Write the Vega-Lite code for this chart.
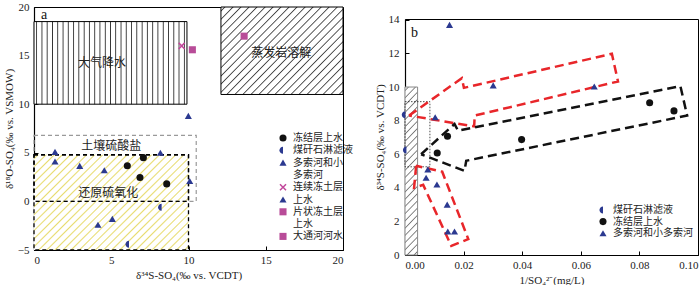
{
"$schema": "https://vega.github.io/schema/vega-lite/v6.json",
"padding": {"left": 2, "right": 2, "top": 0, "bottom": 0},
"background": "white",
"spacing": 19,
"config": {
  "view": {"stroke": "black", "strokeWidth": 1},
  "axis": {"grid": false, "domainColor": "black", "domainWidth": 1.2, "tickColor": "black", "tickSize": -4, "labelFont": "Liberation Serif", "titleFont": "Liberation Serif", "labelFontSize": 11, "titleFontSize": 11, "titleFontWeight": "normal", "labelColor": "#222", "titleColor": "#222", "zindex": 1},
  "legend": {"labelFont": "Noto Sans CJK SC", "labelFontSize": 10, "labelColor": "#222", "symbolSize": 50, "labelOffset": 5, "padding": 0, "symbolStrokeWidth": 0}
},
"resolve": {"scale": {"color": "independent", "shape": "independent"}, "legend": {"color": "independent", "shape": "independent"}},
"hconcat": [
{
  "width": 309, "height": 243,
  "encoding": {
    "x": {"field": "x", "type": "quantitative", "scale": {"domain": [0, 20], "nice": false, "zero": false}, "axis": {"title": "δ³⁴S-SO₄(‰ vs. VCDT)", "values": [0, 5, 10, 15, 20], "labelPadding": 8, "titlePadding": 4}},
    "y": {"field": "y", "type": "quantitative", "scale": {"domain": [-5, 20], "nice": false, "zero": false}, "axis": {"title": "δ¹⁸O-SO₄(‰ vs. VSMOW)", "values": [-5, 0, 5, 10, 15, 20], "labelPadding": 9, "titlePadding": 3}}
  },
  "layer": [
    {"data": {"values": [{"x": 0, "x2": 9.9, "y": 10, "y2": 18.5}]},
     "mark": {"type": "rect", "stroke": "black", "strokeWidth": 1, "fill": {"gradient": "linear", "x1": 0, "y1": 0, "x2": 1, "y2": 0, "stops": [
{"offset":0.011,"color":"#ffffff"},{"offset":0.017,"color":"#333333"},{"offset":0.023,"color":"#ffffff"},
{"offset":0.046,"color":"#ffffff"},{"offset":0.052,"color":"#333333"},{"offset":0.058,"color":"#ffffff"},
{"offset":0.080,"color":"#ffffff"},{"offset":0.086,"color":"#333333"},{"offset":0.092,"color":"#ffffff"},
{"offset":0.115,"color":"#ffffff"},{"offset":0.121,"color":"#333333"},{"offset":0.127,"color":"#ffffff"},
{"offset":0.149,"color":"#ffffff"},{"offset":0.155,"color":"#333333"},{"offset":0.161,"color":"#ffffff"},
{"offset":0.184,"color":"#ffffff"},{"offset":0.190,"color":"#333333"},{"offset":0.196,"color":"#ffffff"},
{"offset":0.218,"color":"#ffffff"},{"offset":0.224,"color":"#333333"},{"offset":0.230,"color":"#ffffff"},
{"offset":0.253,"color":"#ffffff"},{"offset":0.259,"color":"#333333"},{"offset":0.265,"color":"#ffffff"},
{"offset":0.287,"color":"#ffffff"},{"offset":0.293,"color":"#333333"},{"offset":0.299,"color":"#ffffff"},
{"offset":0.322,"color":"#ffffff"},{"offset":0.328,"color":"#333333"},{"offset":0.334,"color":"#ffffff"},
{"offset":0.356,"color":"#ffffff"},{"offset":0.362,"color":"#333333"},{"offset":0.368,"color":"#ffffff"},
{"offset":0.391,"color":"#ffffff"},{"offset":0.397,"color":"#333333"},{"offset":0.403,"color":"#ffffff"},
{"offset":0.425,"color":"#ffffff"},{"offset":0.431,"color":"#333333"},{"offset":0.437,"color":"#ffffff"},
{"offset":0.460,"color":"#ffffff"},{"offset":0.466,"color":"#333333"},{"offset":0.472,"color":"#ffffff"},
{"offset":0.494,"color":"#ffffff"},{"offset":0.500,"color":"#333333"},{"offset":0.506,"color":"#ffffff"},
{"offset":0.528,"color":"#ffffff"},{"offset":0.534,"color":"#333333"},{"offset":0.540,"color":"#ffffff"},
{"offset":0.563,"color":"#ffffff"},{"offset":0.569,"color":"#333333"},{"offset":0.575,"color":"#ffffff"},
{"offset":0.597,"color":"#ffffff"},{"offset":0.603,"color":"#333333"},{"offset":0.609,"color":"#ffffff"},
{"offset":0.632,"color":"#ffffff"},{"offset":0.638,"color":"#333333"},{"offset":0.644,"color":"#ffffff"},
{"offset":0.666,"color":"#ffffff"},{"offset":0.672,"color":"#333333"},{"offset":0.678,"color":"#ffffff"},
{"offset":0.701,"color":"#ffffff"},{"offset":0.707,"color":"#333333"},{"offset":0.713,"color":"#ffffff"},
{"offset":0.735,"color":"#ffffff"},{"offset":0.741,"color":"#333333"},{"offset":0.747,"color":"#ffffff"},
{"offset":0.770,"color":"#ffffff"},{"offset":0.776,"color":"#333333"},{"offset":0.782,"color":"#ffffff"},
{"offset":0.804,"color":"#ffffff"},{"offset":0.810,"color":"#333333"},{"offset":0.816,"color":"#ffffff"},
{"offset":0.839,"color":"#ffffff"},{"offset":0.845,"color":"#333333"},{"offset":0.851,"color":"#ffffff"},
{"offset":0.873,"color":"#ffffff"},{"offset":0.879,"color":"#333333"},{"offset":0.885,"color":"#ffffff"},
{"offset":0.908,"color":"#ffffff"},{"offset":0.914,"color":"#333333"},{"offset":0.920,"color":"#ffffff"},
{"offset":0.942,"color":"#ffffff"},{"offset":0.948,"color":"#333333"},{"offset":0.954,"color":"#ffffff"},
{"offset":0.977,"color":"#ffffff"},{"offset":0.983,"color":"#333333"},{"offset":0.989,"color":"#ffffff"}]}},
     "encoding": {"x2": {"field": "x2"}, "y2": {"field": "y2"}}},
    {"data": {"values": [{"x": 12.1, "x2": 20, "y": 11, "y2": 20}]},
     "mark": {"type": "rect", "stroke": "black", "strokeWidth": 1, "fill": {"gradient": "linear", "x1": 0, "y1": 0, "x2": 1.138, "y2": 0.805, "stops": [
{"offset":0.013,"color":"#ffffff"},{"offset":0.019,"color":"#444444"},{"offset":0.025,"color":"#ffffff"},
{"offset":0.052,"color":"#ffffff"},{"offset":0.058,"color":"#444444"},{"offset":0.064,"color":"#ffffff"},
{"offset":0.090,"color":"#ffffff"},{"offset":0.096,"color":"#444444"},{"offset":0.102,"color":"#ffffff"},
{"offset":0.129,"color":"#ffffff"},{"offset":0.135,"color":"#444444"},{"offset":0.141,"color":"#ffffff"},
{"offset":0.167,"color":"#ffffff"},{"offset":0.173,"color":"#444444"},{"offset":0.179,"color":"#ffffff"},
{"offset":0.206,"color":"#ffffff"},{"offset":0.212,"color":"#444444"},{"offset":0.218,"color":"#ffffff"},
{"offset":0.244,"color":"#ffffff"},{"offset":0.250,"color":"#444444"},{"offset":0.256,"color":"#ffffff"},
{"offset":0.282,"color":"#ffffff"},{"offset":0.288,"color":"#444444"},{"offset":0.294,"color":"#ffffff"},
{"offset":0.321,"color":"#ffffff"},{"offset":0.327,"color":"#444444"},{"offset":0.333,"color":"#ffffff"},
{"offset":0.359,"color":"#ffffff"},{"offset":0.365,"color":"#444444"},{"offset":0.371,"color":"#ffffff"},
{"offset":0.398,"color":"#ffffff"},{"offset":0.404,"color":"#444444"},{"offset":0.410,"color":"#ffffff"},
{"offset":0.436,"color":"#ffffff"},{"offset":0.442,"color":"#444444"},{"offset":0.448,"color":"#ffffff"},
{"offset":0.475,"color":"#ffffff"},{"offset":0.481,"color":"#444444"},{"offset":0.487,"color":"#ffffff"},
{"offset":0.513,"color":"#ffffff"},{"offset":0.519,"color":"#444444"},{"offset":0.525,"color":"#ffffff"},
{"offset":0.552,"color":"#ffffff"},{"offset":0.558,"color":"#444444"},{"offset":0.564,"color":"#ffffff"},
{"offset":0.590,"color":"#ffffff"},{"offset":0.596,"color":"#444444"},{"offset":0.602,"color":"#ffffff"},
{"offset":0.629,"color":"#ffffff"},{"offset":0.635,"color":"#444444"},{"offset":0.641,"color":"#ffffff"},
{"offset":0.667,"color":"#ffffff"},{"offset":0.673,"color":"#444444"},{"offset":0.679,"color":"#ffffff"},
{"offset":0.706,"color":"#ffffff"},{"offset":0.712,"color":"#444444"},{"offset":0.718,"color":"#ffffff"},
{"offset":0.744,"color":"#ffffff"},{"offset":0.750,"color":"#444444"},{"offset":0.756,"color":"#ffffff"},
{"offset":0.782,"color":"#ffffff"},{"offset":0.788,"color":"#444444"},{"offset":0.794,"color":"#ffffff"},
{"offset":0.821,"color":"#ffffff"},{"offset":0.827,"color":"#444444"},{"offset":0.833,"color":"#ffffff"},
{"offset":0.859,"color":"#ffffff"},{"offset":0.865,"color":"#444444"},{"offset":0.871,"color":"#ffffff"},
{"offset":0.898,"color":"#ffffff"},{"offset":0.904,"color":"#444444"},{"offset":0.910,"color":"#ffffff"},
{"offset":0.936,"color":"#ffffff"},{"offset":0.942,"color":"#444444"},{"offset":0.948,"color":"#ffffff"},
{"offset":0.975,"color":"#ffffff"},{"offset":0.981,"color":"#444444"},{"offset":0.987,"color":"#ffffff"}]}},
     "encoding": {"x2": {"field": "x2"}, "y2": {"field": "y2"}}},
    {"data": {"values": [{"x": 0, "x2": 10, "y": -5, "y2": 4.8}]},
     "mark": {"type": "rect", "strokeWidth": 0, "fill": {"gradient": "linear", "x1": 0, "y1": 0, "x2": 1.169, "y2": 0.730, "stops": [
{"offset":0.010,"color":"#ffffff"},{"offset":0.016,"color":"#e8dc70"},{"offset":0.022,"color":"#ffffff"},
{"offset":0.042,"color":"#ffffff"},{"offset":0.048,"color":"#e8dc70"},{"offset":0.054,"color":"#ffffff"},
{"offset":0.075,"color":"#ffffff"},{"offset":0.081,"color":"#e8dc70"},{"offset":0.087,"color":"#ffffff"},
{"offset":0.107,"color":"#ffffff"},{"offset":0.113,"color":"#e8dc70"},{"offset":0.119,"color":"#ffffff"},
{"offset":0.139,"color":"#ffffff"},{"offset":0.145,"color":"#e8dc70"},{"offset":0.151,"color":"#ffffff"},
{"offset":0.171,"color":"#ffffff"},{"offset":0.177,"color":"#e8dc70"},{"offset":0.183,"color":"#ffffff"},
{"offset":0.204,"color":"#ffffff"},{"offset":0.210,"color":"#e8dc70"},{"offset":0.216,"color":"#ffffff"},
{"offset":0.236,"color":"#ffffff"},{"offset":0.242,"color":"#e8dc70"},{"offset":0.248,"color":"#ffffff"},
{"offset":0.268,"color":"#ffffff"},{"offset":0.274,"color":"#e8dc70"},{"offset":0.280,"color":"#ffffff"},
{"offset":0.300,"color":"#ffffff"},{"offset":0.306,"color":"#e8dc70"},{"offset":0.312,"color":"#ffffff"},
{"offset":0.333,"color":"#ffffff"},{"offset":0.339,"color":"#e8dc70"},{"offset":0.345,"color":"#ffffff"},
{"offset":0.365,"color":"#ffffff"},{"offset":0.371,"color":"#e8dc70"},{"offset":0.377,"color":"#ffffff"},
{"offset":0.397,"color":"#ffffff"},{"offset":0.403,"color":"#e8dc70"},{"offset":0.409,"color":"#ffffff"},
{"offset":0.429,"color":"#ffffff"},{"offset":0.435,"color":"#e8dc70"},{"offset":0.441,"color":"#ffffff"},
{"offset":0.462,"color":"#ffffff"},{"offset":0.468,"color":"#e8dc70"},{"offset":0.474,"color":"#ffffff"},
{"offset":0.494,"color":"#ffffff"},{"offset":0.500,"color":"#e8dc70"},{"offset":0.506,"color":"#ffffff"},
{"offset":0.526,"color":"#ffffff"},{"offset":0.532,"color":"#e8dc70"},{"offset":0.538,"color":"#ffffff"},
{"offset":0.559,"color":"#ffffff"},{"offset":0.565,"color":"#e8dc70"},{"offset":0.571,"color":"#ffffff"},
{"offset":0.591,"color":"#ffffff"},{"offset":0.597,"color":"#e8dc70"},{"offset":0.603,"color":"#ffffff"},
{"offset":0.623,"color":"#ffffff"},{"offset":0.629,"color":"#e8dc70"},{"offset":0.635,"color":"#ffffff"},
{"offset":0.655,"color":"#ffffff"},{"offset":0.661,"color":"#e8dc70"},{"offset":0.667,"color":"#ffffff"},
{"offset":0.688,"color":"#ffffff"},{"offset":0.694,"color":"#e8dc70"},{"offset":0.700,"color":"#ffffff"},
{"offset":0.720,"color":"#ffffff"},{"offset":0.726,"color":"#e8dc70"},{"offset":0.732,"color":"#ffffff"},
{"offset":0.752,"color":"#ffffff"},{"offset":0.758,"color":"#e8dc70"},{"offset":0.764,"color":"#ffffff"},
{"offset":0.784,"color":"#ffffff"},{"offset":0.790,"color":"#e8dc70"},{"offset":0.796,"color":"#ffffff"},
{"offset":0.817,"color":"#ffffff"},{"offset":0.823,"color":"#e8dc70"},{"offset":0.829,"color":"#ffffff"},
{"offset":0.849,"color":"#ffffff"},{"offset":0.855,"color":"#e8dc70"},{"offset":0.861,"color":"#ffffff"},
{"offset":0.881,"color":"#ffffff"},{"offset":0.887,"color":"#e8dc70"},{"offset":0.893,"color":"#ffffff"},
{"offset":0.913,"color":"#ffffff"},{"offset":0.919,"color":"#e8dc70"},{"offset":0.925,"color":"#ffffff"},
{"offset":0.946,"color":"#ffffff"},{"offset":0.952,"color":"#e8dc70"},{"offset":0.958,"color":"#ffffff"},
{"offset":0.978,"color":"#ffffff"},{"offset":0.984,"color":"#e8dc70"},{"offset":0.990,"color":"#ffffff"}]}},
     "encoding": {"x2": {"field": "x2"}, "y2": {"field": "y2"}}},
    {"data": {"values": [{"x": 0, "x2": 10.5, "y": 0, "y2": 6.8}]},
     "mark": {"type": "rect", "fill": "transparent", "stroke": "#9a9a9a", "strokeWidth": 1.2, "strokeDash": [4, 3]},
     "encoding": {"x2": {"field": "x2"}, "y2": {"field": "y2"}}},
    {"data": {"values": [{"x": 0, "x2": 10, "y": -5, "y2": 4.8}, {"x": 0, "x2": 10, "y": 0, "y2": 4.8}]},
     "mark": {"type": "rect", "fill": "transparent", "stroke": "black", "strokeWidth": 1.3, "strokeDash": [4, 3]},
     "encoding": {"x2": {"field": "x2"}, "y2": {"field": "y2"}}},
    {"data": {"values": [{"x": 4.4, "y": 14.2, "t": "大气降水"}, {"x": 16, "y": 15.3, "t": "蒸发岩溶解"}, {"x": 5, "y": 5.75, "t": "土壤硫酸盐"}, {"x": 4.8, "y": 0.9, "t": "还原硫氧化"}]},
     "mark": {"type": "text", "font": "Noto Sans CJK SC", "fontSize": 12, "color": "#222"},
     "encoding": {"text": {"field": "t"}}},
    {"data": {"values": [{"x": 0.65, "y": 19.2, "t": "a"}]},
     "mark": {"type": "text", "font": "Liberation Serif", "fontSize": 14, "color": "#111"},
     "encoding": {"text": {"field": "t"}}},
    {"data": {"values": [
      {"x": 6.04, "y": 3.67, "type": "冻结层上水"}, {"x": 7.08, "y": 4.5, "type": "冻结层上水"}, {"x": 6.86, "y": 2.45, "type": "冻结层上水"}, {"x": 8.59, "y": 1.8, "type": "冻结层上水"},
      {"x": 1.36, "y": 5.1, "type": "多索河和小多索河"}, {"x": 1.36, "y": 4.1, "type": "多索河和小多索河"}, {"x": 2.96, "y": 3.65, "type": "多索河和小多索河"}, {"x": 4.55, "y": 3.2, "type": "多索河和小多索河"},
      {"x": 8.18, "y": 5.0, "type": "多索河和小多索河"}, {"x": 10.08, "y": 2.1, "type": "多索河和小多索河"}, {"x": 4.14, "y": -2.4, "type": "多索河和小多索河"}, {"x": 5.07, "y": -1.8, "type": "多索河和小多索河"},
      {"x": 9.99, "y": 8.8, "type": "上水"},
      {"x": 8.26, "y": -0.6, "type": "煤矸石淋滤液"}, {"x": 6.15, "y": -4.4, "type": "煤矸石淋滤液"},
      {"x": 9.56, "y": 16.0, "type": "连续冻土层"},
      {"x": 10.25, "y": 15.6, "type": "片状冻土层上水"},
      {"x": 13.6, "y": 17.0, "type": "大通河河水"}]},
     "mark": {"type": "point", "filled": true, "opacity": 1, "size": 50},
     "encoding": {
       "color": {"field": "type", "type": "nominal",
         "scale": {"domain": ["冻结层上水", "煤矸石淋滤液", "多索河和小多索河", "L2a", "连续冻土层", "上水", "片状冻土层上水", "L2b", "大通河河水"],
                   "range": ["#111111", "#2b3990", "#2b3990", "rgba(0,0,0,0)", "#c2479b", "#2b3990", "#b84c98", "rgba(0,0,0,0)", "#b84c98"]},
         "legend": {"title": null, "orient": "none", "legendX": 244, "legendY": 126, "rowPadding": 2.3,
           "labelExpr": "datum.label == '多索河和小多索河' ? '多索河和小' : datum.label == 'L2a' ? '多索河' : datum.label == '片状冻土层上水' ? '片状冻土层' : datum.label == 'L2b' ? '上水' : datum.label"}},
       "shape": {"field": "type", "type": "nominal",
         "scale": {"domain": ["冻结层上水", "煤矸石淋滤液", "多索河和小多索河", "L2a", "连续冻土层", "上水", "片状冻土层上水", "L2b", "大通河河水"],
                   "range": ["circle", "M0,-1A1,1,0,0,0,0,1Z", "triangle-up", "circle", "M-1,-0.7L-0.7,-1L0,-0.3L0.7,-1L1,-0.7L0.3,0L1,0.7L0.7,1L0,0.3L-0.7,1L-1,0.7L-0.3,0Z", "triangle-up", "square", "circle", "square"]},
         "legend": {"title": null, "orient": "none", "legendX": 244, "legendY": 126, "rowPadding": 2.3,
           "labelExpr": "datum.label == '多索河和小多索河' ? '多索河和小' : datum.label == 'L2a' ? '多索河' : datum.label == '片状冻土层上水' ? '片状冻土层' : datum.label == 'L2b' ? '上水' : datum.label"}}
     }}
  ]
},
{
  "spacing": 0,
  "vconcat": [
  {
    "width": 293, "height": 1,
    "view": {"stroke": null},
    "data": {"values": [{"t": ""}]},
    "mark": {"type": "text"},
    "encoding": {"text": {"field": "t"}}
  },
  {
  "width": 293, "height": 236,
  "encoding": {
    "x": {"field": "x", "type": "quantitative", "scale": {"domain": [0, 0.1], "nice": false, "zero": false}, "axis": {"title": "1/SO₄²⁻(mg/L)", "values": [0, 0.02, 0.04, 0.06, 0.08, 0.1], "format": ".2f", "labelFlush": true, "labelPadding": 8, "titlePadding": 4}},
    "y": {"field": "y", "type": "quantitative", "scale": {"domain": [0, 14.05], "nice": false, "zero": false}, "axis": {"title": "δ³⁴S-SO₄(‰ vs. VCDT)", "values": [0, 2, 4, 6, 8, 10, 12, 14], "labelPadding": 10, "titlePadding": 3}}
  },
  "layer": [
    {"data": {"values": [{"x": 0, "x2": 0.0043, "y": 0, "y2": 10}]},
     "mark": {"type": "rect", "stroke": "#888888", "strokeWidth": 1, "fill": {"gradient": "linear", "x1": 0, "y1": 0, "x2": 0.0831, "y2": 1.071, "stops": [
{"offset":0.013,"color":"#ffffff"},{"offset":0.02,"color":"#777777"},{"offset":0.027,"color":"#ffffff"},
{"offset":0.053,"color":"#ffffff"},{"offset":0.06,"color":"#777777"},{"offset":0.067,"color":"#ffffff"},
{"offset":0.093,"color":"#ffffff"},{"offset":0.10,"color":"#777777"},{"offset":0.107,"color":"#ffffff"},
{"offset":0.133,"color":"#ffffff"},{"offset":0.14,"color":"#777777"},{"offset":0.147,"color":"#ffffff"},
{"offset":0.173,"color":"#ffffff"},{"offset":0.18,"color":"#777777"},{"offset":0.187,"color":"#ffffff"},
{"offset":0.213,"color":"#ffffff"},{"offset":0.22,"color":"#777777"},{"offset":0.227,"color":"#ffffff"},
{"offset":0.253,"color":"#ffffff"},{"offset":0.26,"color":"#777777"},{"offset":0.267,"color":"#ffffff"},
{"offset":0.293,"color":"#ffffff"},{"offset":0.30,"color":"#777777"},{"offset":0.307,"color":"#ffffff"},
{"offset":0.333,"color":"#ffffff"},{"offset":0.34,"color":"#777777"},{"offset":0.347,"color":"#ffffff"},
{"offset":0.373,"color":"#ffffff"},{"offset":0.38,"color":"#777777"},{"offset":0.387,"color":"#ffffff"},
{"offset":0.413,"color":"#ffffff"},{"offset":0.42,"color":"#777777"},{"offset":0.427,"color":"#ffffff"},
{"offset":0.453,"color":"#ffffff"},{"offset":0.46,"color":"#777777"},{"offset":0.467,"color":"#ffffff"},
{"offset":0.493,"color":"#ffffff"},{"offset":0.50,"color":"#777777"},{"offset":0.507,"color":"#ffffff"},
{"offset":0.533,"color":"#ffffff"},{"offset":0.54,"color":"#777777"},{"offset":0.547,"color":"#ffffff"},
{"offset":0.573,"color":"#ffffff"},{"offset":0.58,"color":"#777777"},{"offset":0.587,"color":"#ffffff"},
{"offset":0.613,"color":"#ffffff"},{"offset":0.62,"color":"#777777"},{"offset":0.627,"color":"#ffffff"},
{"offset":0.653,"color":"#ffffff"},{"offset":0.66,"color":"#777777"},{"offset":0.667,"color":"#ffffff"},
{"offset":0.693,"color":"#ffffff"},{"offset":0.70,"color":"#777777"},{"offset":0.707,"color":"#ffffff"},
{"offset":0.733,"color":"#ffffff"},{"offset":0.74,"color":"#777777"},{"offset":0.747,"color":"#ffffff"},
{"offset":0.773,"color":"#ffffff"},{"offset":0.78,"color":"#777777"},{"offset":0.787,"color":"#ffffff"},
{"offset":0.813,"color":"#ffffff"},{"offset":0.82,"color":"#777777"},{"offset":0.827,"color":"#ffffff"},
{"offset":0.853,"color":"#ffffff"},{"offset":0.86,"color":"#777777"},{"offset":0.867,"color":"#ffffff"},
{"offset":0.893,"color":"#ffffff"},{"offset":0.90,"color":"#777777"},{"offset":0.907,"color":"#ffffff"},
{"offset":0.933,"color":"#ffffff"},{"offset":0.94,"color":"#777777"},{"offset":0.947,"color":"#ffffff"},
{"offset":0.973,"color":"#ffffff"},{"offset":0.98,"color":"#777777"},{"offset":0.987,"color":"#ffffff"}]}},
     "encoding": {"x2": {"field": "x2"}, "y2": {"field": "y2"}}},
    {"data": {"values": [{"x": 0, "x2": 0.0085, "y": 5.25, "y2": 9.13}]},
     "mark": {"type": "rect", "fill": "transparent", "stroke": "#222", "strokeWidth": 0.8, "strokeDash": [1.5, 1.5]},
     "encoding": {"x2": {"field": "x2"}, "y2": {"field": "y2"}}},
    {"data": {"values": [
      {"g": "r1", "o": 0, "x": 0.0014, "y": 8.3}, {"g": "r1", "o": 1, "x": 0.0194, "y": 10.53}, {"g": "r1", "o": 2, "x": 0.0201, "y": 9.95}, {"g": "r1", "o": 3, "x": 0.0706, "y": 11.98},
      {"g": "r1", "o": 4, "x": 0.0727, "y": 10.33}, {"g": "r1", "o": 5, "x": 0.0238, "y": 8.3}, {"g": "r1", "o": 6, "x": 0.0236, "y": 7.66}, {"g": "r1", "o": 7, "x": 0.0014, "y": 8.3},
      {"g": "r2", "o": 0, "x": 0.0038, "y": 5.31}, {"g": "r2", "o": 1, "x": 0.0031, "y": 4.0}, {"g": "r2", "o": 2, "x": 0.0062, "y": 4.18}, {"g": "r2", "o": 3, "x": 0.0158, "y": 0.54},
      {"g": "r2", "o": 4, "x": 0.0216, "y": 0.95}, {"g": "r2", "o": 5, "x": 0.0127, "y": 4.96}, {"g": "r2", "o": 6, "x": 0.0038, "y": 5.31}]},
     "mark": {"type": "line", "color": "#e8262a", "strokeWidth": 2.5, "strokeDash": [9, 5]},
     "encoding": {"detail": {"field": "g"}, "order": {"field": "o", "type": "quantitative"}}},
    {"data": {"values": [
      {"g": "k1", "o": 0, "x": 0.0055, "y": 6.0}, {"g": "k1", "o": 1, "x": 0.0169, "y": 7.8}, {"g": "k1", "o": 2, "x": 0.0181, "y": 7.4}, {"g": "k1", "o": 3, "x": 0.094, "y": 10.05},
      {"g": "k1", "o": 4, "x": 0.0963, "y": 8.3}, {"g": "k1", "o": 5, "x": 0.0209, "y": 5.61}, {"g": "k1", "o": 6, "x": 0.0203, "y": 5.01}, {"g": "k1", "o": 7, "x": 0.0055, "y": 6.0}]},
     "mark": {"type": "line", "color": "#111111", "strokeWidth": 2.5, "strokeDash": [9, 5]},
     "encoding": {"detail": {"field": "g"}, "order": {"field": "o", "type": "quantitative"}}},
    {"data": {"values": [{"x": 0.0032, "y": 13.2, "t": "b"}]},
     "mark": {"type": "text", "font": "Liberation Serif", "fontSize": 14, "color": "#111"},
     "encoding": {"text": {"field": "t"}}},
    {"data": {"values": [
      {"x": 0.0001, "y": 8.35, "group": "煤矸石淋滤液"}, {"x": 0.0005, "y": 6.25, "group": "煤矸石淋滤液"},
      {"x": 0.011, "y": 6.07, "group": "冻结层上水"}, {"x": 0.0145, "y": 7.07, "group": "冻结层上水"}, {"x": 0.0398, "y": 6.87, "group": "冻结层上水"}, {"x": 0.0835, "y": 9.06, "group": "冻结层上水"}, {"x": 0.0918, "y": 8.58, "group": "冻结层上水"},
      {"x": 0.0152, "y": 13.7, "group": "多索河和小多索河"}, {"x": 0.0301, "y": 10.1, "group": "多索河和小多索河"}, {"x": 0.0646, "y": 10.03, "group": "多索河和小多索河"}, {"x": 0.0103, "y": 8.2, "group": "多索河和小多索河"},
      {"x": 0.0078, "y": 5.1, "group": "多索河和小多索河"}, {"x": 0.0072, "y": 4.6, "group": "多索河和小多索河"}, {"x": 0.0109, "y": 4.2, "group": "多索河和小多索河"}, {"x": 0.0144, "y": 3.0, "group": "多索河和小多索河"},
      {"x": 0.0146, "y": 1.4, "group": "多索河和小多索河"}, {"x": 0.0169, "y": 1.4, "group": "多索河和小多索河"}]},
     "mark": {"type": "point", "filled": true, "opacity": 1, "size": 50},
     "encoding": {
       "color": {"field": "group", "type": "nominal", "scale": {"domain": ["煤矸石淋滤液", "冻结层上水", "多索河和小多索河"], "range": ["#2b3990", "#111111", "#2b3990"]},
         "legend": {"title": null, "orient": "none", "legendX": 193, "legendY": 198, "rowPadding": 1.6}},
       "shape": {"field": "group", "type": "nominal", "scale": {"domain": ["煤矸石淋滤液", "冻结层上水", "多索河和小多索河"], "range": ["M0,-1A1,1,0,0,0,0,1Z", "circle", "triangle-up"]},
         "legend": {"title": null, "orient": "none", "legendX": 193, "legendY": 198, "rowPadding": 1.6}}
     }}
  ]
  }
  ]
}
]
}
